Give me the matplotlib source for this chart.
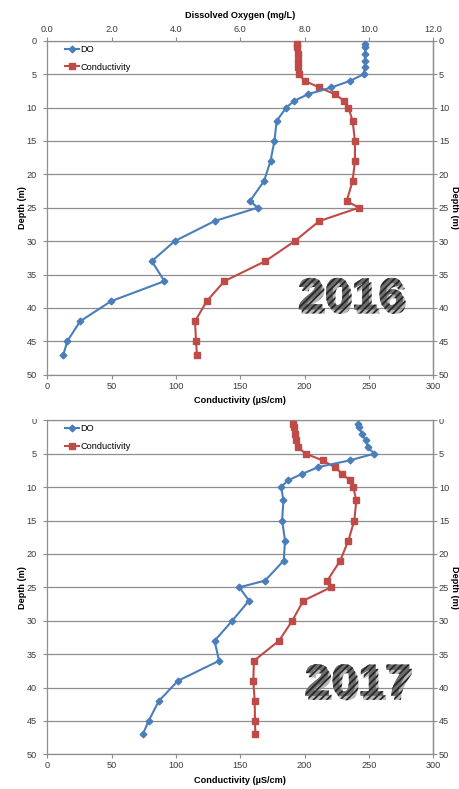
import matplotlib
matplotlib.use("Agg")
import matplotlib.pyplot as plt
from matplotlib.lines import Line2D
from matplotlib.patches import PathPatch, Rectangle
from matplotlib.textpath import TextPath
from matplotlib.font_manager import FontProperties
from matplotlib import transforms
import matplotlib.patheffects as pe

plt.rcParams["font.family"] = ["Liberation Sans Narrow", "Liberation Sans", "DejaVu Sans"]
plt.rcParams["hatch.linewidth"] = 1.3

# Sampling depths (m) for both profiles
depth = [0.5, 1, 2, 3, 4, 5, 6, 7, 8, 9, 10, 12, 15, 18, 21, 24, 25, 27, 30,
         33, 36, 39, 42, 45, 47]

# 2016 profile
do_2016 = [9.88, 9.88, 9.88, 9.87, 9.87, 9.84, 9.42, 8.83, 8.11, 7.68, 7.43,
           7.13, 7.06, 6.94, 6.74, 6.30, 6.54, 5.20, 3.96, 3.25, 3.64, 1.98,
           1.02, 0.62, 0.50]
cond_2016 = [194.3, 194.4, 194.6, 194.8, 195.0, 195.4, 200.0, 211.4, 223.3,
             230.8, 234.0, 237.3, 239.1, 239.1, 237.3, 232.7, 242.2, 211.4,
             192.3, 169.5, 137.6, 123.9, 114.8, 115.6, 116.3]

# 2017 profile
do_2017 = [9.67, 9.69, 9.78, 9.90, 9.96, 10.16, 9.40, 8.43, 7.93, 7.48, 7.27,
           7.34, 7.30, 7.39, 7.35, 6.77, 5.97, 6.27, 5.75, 5.20, 5.34, 4.06,
           3.47, 3.15, 2.97]
cond_2017 = [191.2, 191.5, 192.3, 193.5, 194.6, 200.8, 214.0, 223.3, 229.3,
             235.0, 237.8, 240.2, 238.6, 234.0, 227.7, 217.6, 220.5, 199.0,
             190.4, 180.1, 160.6, 160.1, 161.2, 161.4, 161.7]

years = ["2016", "2017"]
year_pos = [(236, 37.9), (241, 38.9)]  # (conductivity, depth) centre of year label

do_ticks = [0, 2, 4, 6, 8, 10, 12]
cond_ticks = [0, 50, 100, 150, 200, 250, 300]
depth_ticks = [0, 5, 10, 15, 20, 25, 30, 35, 40, 45, 50]

BLUE = "#4A7EBB"
RED = "#BE4B48"
GRID = "#8e8e8e"
TXT = "#3a3a3a"
FS = 6.6

W, H = 460, 789
fig = plt.figure(figsize=(W / 100, H / 100), dpi=100)


def panel(top_px, do_vals, cond_vals, year, ypos, show_top):
    left, right, bottom_px = 47.3, 433.3, top_px + 334
    ax = fig.add_axes([left / W, 1 - bottom_px / H, (right - left) / W,
                       (bottom_px - top_px) / H])
    ax.set_xlim(0, 300)
    ax.set_ylim(50, 0)
    ax.set_xticks(cond_ticks)
    ax.set_yticks(depth_ticks)
    for y in depth_ticks:
        ax.axhline(y, color=GRID, lw=0.9, zorder=0)
    for s in ax.spines.values():
        s.set_color(GRID)
        s.set_linewidth(0.9)
    ax.tick_params(axis="both", direction="out", length=3, width=0.8,
                   color=GRID, labelsize=FS, labelcolor=TXT, pad=2)
    ax.tick_params(axis="y", pad=4.5)
    ax.set_xlabel("Conductivity (\u00b5S/cm)", fontsize=FS, fontweight="bold",
                  color="black", labelpad=4)

    # right-hand depth scale
    rax = ax.secondary_yaxis("right")
    rax.set_yticks(depth_ticks)
    rax.spines["right"].set_color(GRID)
    rax.spines["right"].set_linewidth(0.9)
    rax.tick_params(direction="out", length=3, width=0.8, color=GRID,
                    labelsize=FS, labelcolor=TXT, pad=1)

    mid = 1 - (top_px + 167) / H
    fig.text(22.5 / W, mid, "Depth (m)", fontsize=FS, fontweight="bold",
             rotation=90, ha="center", va="center")
    fig.text(455 / W, mid, "Depth (m)", fontsize=FS, fontweight="bold",
             rotation=-90, ha="center", va="center")

    ax2 = ax.twiny()
    ax2.set_xlim(0, 12)
    ax2.set_ylim(50, 0)
    ax2.set_xticks(do_ticks)
    ax2.set_xticklabels([f"{t:.1f}" for t in do_ticks])
    for s in ax2.spines.values():
        s.set_visible(False)
    if show_top:
        ax2.tick_params(axis="x", direction="out", length=3, width=0.8,
                        color=GRID, labelsize=FS, labelcolor=TXT, pad=2)
        ax2.set_xlabel("Dissolved Oxygen (mg/L)", fontsize=FS,
                       fontweight="bold", labelpad=5)
    else:
        ax2.tick_params(axis="x", top=False, labeltop=False)

    ax.plot(cond_vals, depth, color=RED, lw=1.5, marker="s", ms=4.3,
            zorder=3, clip_on=False)
    ax2.plot(do_vals, depth, color=BLUE, lw=1.5, marker="D", ms=3.4,
             zorder=3, clip_on=False)

    handles = [Line2D([], [], color=BLUE, lw=1.5, marker="D", ms=3.4),
               Line2D([], [], color=RED, lw=1.5, marker="s", ms=4.3)]
    ax2.legend(handles, ["DO", "Conductivity"], loc="upper left",
               bbox_to_anchor=(0.035, 1.0), frameon=False, fontsize=FS,
               handlelength=1.55, handletextpad=0.1, labelspacing=0.95,
               borderaxespad=0.05)

    # Year label: carbon-textured bold lettering with a soft drop shadow
    fp = FontProperties(family="Liberation Sans", weight="bold")
    tp = TextPath((0, 0), year, size=32.5, prop=fp)
    bb = tp.get_extents()
    tr = (transforms.Affine2D().translate(-(bb.x0 + bb.x1) / 2,
                                          -(bb.y0 + bb.y1) / 2)
          .scale(1.07 / 72, 1 / 72)
          + fig.dpi_scale_trans
          + transforms.ScaledTranslation(ypos[0], ypos[1], ax.transData))
    patch = PathPatch(tp, transform=tr, facecolor="#6e6e6e",
                      edgecolor="#262626", lw=0, hatch="/////",
                      zorder=5, clip_on=False)
    patch.set_path_effects([pe.withSimplePatchShadow(offset=(2, -3),
                                                     shadow_rgbFace="#8a8a8a",
                                                     alpha=0.6),
                            pe.Normal()])
    ax2.add_patch(patch)
    return ax


panel(40.7, do_2016, cond_2016, years[0], year_pos[0], True)
panel(420.3, do_2017, cond_2017, years[1], year_pos[1], False)

# The lower chart's top strip is trimmed off
fig.add_artist(Rectangle((0, 1 - 419.3 / H), 1, 12.5 / H,
                         transform=fig.transFigure, facecolor="white",
                         edgecolor="none", zorder=20))

fig.savefig("out.png", dpi=100)
